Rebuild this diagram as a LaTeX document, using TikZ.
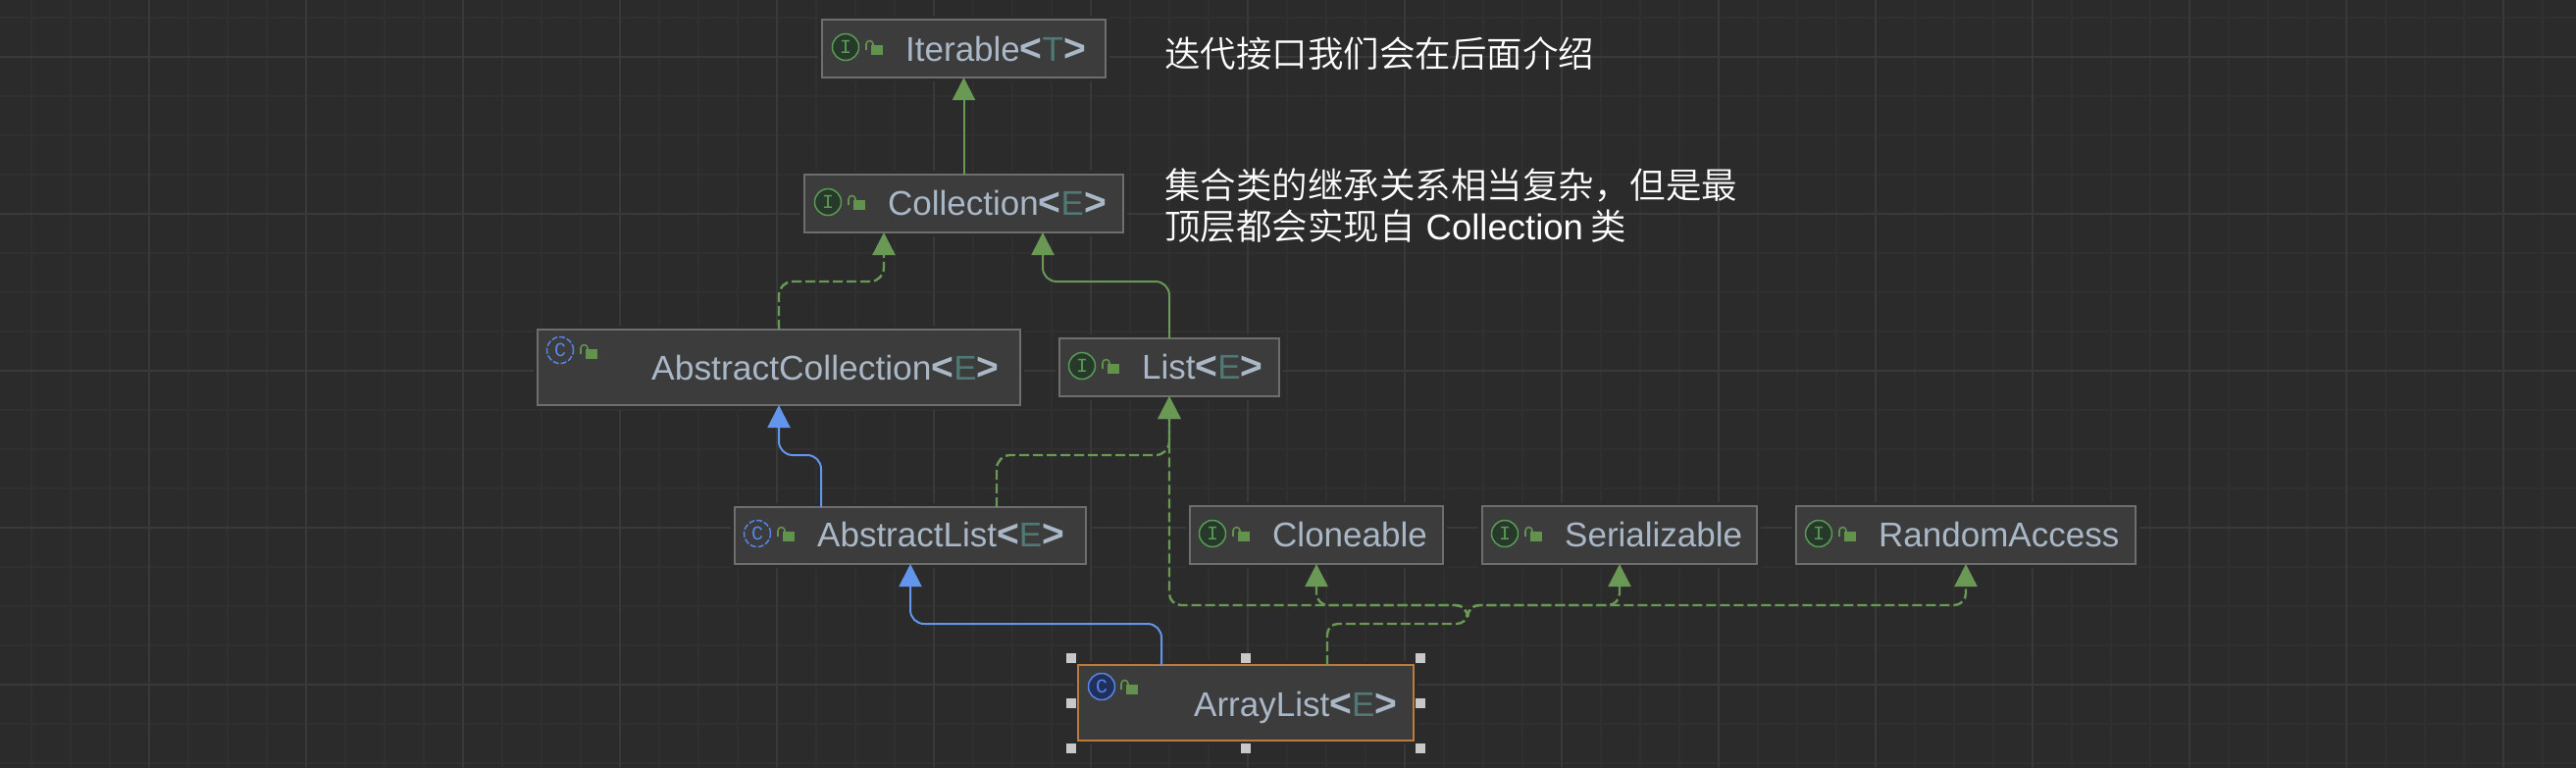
\documentclass[tikz,border=0pt]{standalone}
\usepackage{fontspec}
\usepackage{graphicx}
\setmainfont{Liberation Sans}
\setmonofont{Liberation Mono}
\newfontfamily\cjkfont{Noto Sans CJK SC}[UprightFont=* DemiLight]
\usetikzlibrary{arrows.meta}
\definecolor{bgc}{HTML}{2B2B2B}
\definecolor{gridminor}{HTML}{303030}
\definecolor{gridmajor}{HTML}{393939}
\definecolor{boxfill}{HTML}{3C3C3C}
\definecolor{boxline}{HTML}{6E6E6E}
\definecolor{txtc}{HTML}{A9B7C6}
\definecolor{paramc}{HTML}{507874}
\definecolor{greenc}{HTML}{6A9955}
\definecolor{lockc}{HTML}{62934E}
\definecolor{bluec}{HTML}{6495ED}
\definecolor{ifill}{HTML}{27392B}
\definecolor{ifline}{HTML}{5B9A55}
\definecolor{cfill}{HTML}{20305A}
\definecolor{cline}{HTML}{5586E8}
\definecolor{orangec}{HTML}{BC7A3C}
\definecolor{handlec}{HTML}{C8C8C8}
\tikzset{
  x=1pt,y=-1pt,
  umlbox/.style={draw=boxline,fill=boxfill,line width=2pt,inner sep=0pt,outer sep=0pt,anchor=north west,
    preaction={draw=bgc,line width=8pt}},
  selbox/.style={umlbox,draw=orangec},
  nametext/.style={anchor=base west,inner sep=0pt,text=txtc,font=\fontsize{35}{42}\selectfont},
  note/.style={anchor=north west,inner sep=0pt,text=white,align=left,font=\fontsize{36.5}{42}\selectfont\cjkfont},
  implarrow/.style={draw=greenc,line width=2.4pt,rounded corners=14pt,dash pattern=on 10pt off 4pt,
    -{Triangle[width=23pt,length=23pt,fill=greenc]}},
  implplain/.style={draw=greenc,line width=2.4pt,rounded corners=14pt,dash pattern=on 10pt off 4pt},
  extgreen/.style={draw=greenc,line width=2pt,rounded corners=14pt,
    -{Triangle[width=23pt,length=23pt,fill=greenc]}},
  extblue/.style={draw=bluec,line width=2pt,rounded corners=14pt,
    -{Triangle[width=23pt,length=23pt,fill=bluec]}},
  handle/.style={fill=handlec,inner sep=0pt,minimum size=10pt,outer sep=0pt},
  iconltr/.style={inner sep=0pt,font=\fontsize{20}{20}\selectfont\ttfamily},
}
\newcommand{\lockicon}[3]{%
  \fill[lockc] ([shift={(#2,#3)}]#1.north west) rectangle ++(12,10);
  \draw[lockc,line width=1.6pt] ([shift={(#2-5,#3+5)}]#1.north west) -- ++(0,-6) arc[start angle=180,end angle=0,x radius=3.5,y radius=-3.5] -- ++(0,1);
}
\newcommand{\ifaceicon}[3]{%
  \node[draw=ifline,fill=ifill,circle,line width=1.5pt,minimum size=27pt,inner sep=0pt,text=ifline,iconltr] (#1-ic) at ([shift={(#2,#3)}]#1.north west) {I};
}
\newcommand{\absicon}[3]{%
  \node[draw=cline,circle,line width=1.5pt,dash pattern=on 6pt off 2pt,minimum size=27pt,inner sep=0pt,text=cline,iconltr] (#1-ic) at ([shift={(#2,#3)}]#1.north west) {C};
}
\newcommand{\clsicon}[3]{%
  \node[draw=cline,fill=cfill,circle,line width=1.5pt,minimum size=27pt,inner sep=0pt,text=cline,iconltr] (#1-ic) at ([shift={(#2,#3)}]#1.north west) {C};
}
\newcommand{\gen}[1]{{\fontsize{39}{42}\selectfont\bfseries<}\textcolor{paramc}{#1}{\fontsize{39}{42}\selectfont\bfseries>}}
\begin{document}
\begin{tikzpicture}
\useasboundingbox (0,0) rectangle (2626,782);
\fill[bgc] (-6,-6) rectangle (2632,788);
% grid
\foreach \gx in {32,72,...,2612} {\draw[gridminor,line width=1.5pt] (\gx,0) -- (\gx,782);}
\foreach \gy in {18,58,...,778} {\draw[gridminor,line width=1.5pt] (0,\gy) -- (2626,\gy);}
\foreach \gx in {152,312,...,2612} {\draw[gridmajor,line width=2pt] (\gx,0) -- (\gx,782);}
\foreach \gy in {58,218,378,538,698} {\draw[gridmajor,line width=2pt] (0,\gy) -- (2626,\gy);}
% boxes
\node[umlbox,minimum width=289pt,minimum height=59pt] (iter) at (838,20) {};
\node[umlbox,minimum width=325pt,minimum height=59pt] (coll) at (820,178) {};
\node[umlbox,minimum width=492pt,minimum height=77pt] (acoll) at (548,336) {};
\node[umlbox,minimum width=224pt,minimum height=59pt] (list) at (1080,345) {};
\node[umlbox,minimum width=358pt,minimum height=58pt] (alist) at (749,517) {};
\node[umlbox,minimum width=258pt,minimum height=59pt] (clone) at (1213,516) {};
\node[umlbox,minimum width=280pt,minimum height=59pt] (seri) at (1511,516) {};
\node[umlbox,minimum width=346pt,minimum height=59pt] (rand) at (1831,516) {};
\node[selbox,minimum width=342pt,minimum height=77pt] (arr) at (1099,678) {};
% names
\node[nametext] (iter-t) at ([shift={(85,42)}]iter.north west) {Iterable\gen{T}};
\node[nametext] (coll-t) at ([shift={(85,41)}]coll.north west) {Collection\gen{E}};
\node[nametext] (acoll-t) at ([shift={(116,51)}]acoll.north west) {\scalebox{1.012}[1]{AbstractCollection}\gen{E}};
\node[nametext] (list-t) at ([shift={(84,41)}]list.north west) {List\gen{E}};
\node[nametext] (alist-t) at ([shift={(84,40)}]alist.north west) {AbstractList\gen{E}};
\node[nametext] (clone-t) at ([shift={(84,41)}]clone.north west) {Cloneable};
\node[nametext] (seri-t) at ([shift={(84,41)}]seri.north west) {Serializable};
\node[nametext] (rand-t) at ([shift={(84,41)}]rand.north west) {RandomAccess};
\node[nametext] (arr-t) at ([shift={(118,52)}]arr.north west) {ArrayList\gen{E}};
% icons
\ifaceicon{iter}{24}{28}\lockicon{iter}{50}{26}
\ifaceicon{coll}{24}{28}\lockicon{coll}{50}{26}
\absicon{acoll}{23}{21}\lockicon{acoll}{49}{20}
\ifaceicon{list}{23}{28}\lockicon{list}{49}{26}
\absicon{alist}{23}{27}\lockicon{alist}{49}{25}
\ifaceicon{clone}{23}{28}\lockicon{clone}{49}{26}
\ifaceicon{seri}{23}{28}\lockicon{seri}{49}{26}
\ifaceicon{rand}{23}{28}\lockicon{rand}{49}{26}
\clsicon{arr}{24}{22}\lockicon{arr}{49}{20}
% connectors
\draw[extgreen] (coll.north) -- (iter.south);
\draw[implarrow] (acoll.north) -- ++(0,-49) -| ([xshift=-81.5pt]coll.south);
\draw[extgreen] (list.north) -- ++(0,-58) -| ([xshift=80.5pt]coll.south);
\draw[extblue] ([xshift=-91pt]alist.north) -- ++(0,-53) -| (acoll.south);
\draw[implarrow] ([xshift=88pt]alist.north) -- ++(0,-53) -| (list.south);
\draw[extblue] ([xshift=-86pt]arr.north) -- ++(0,-42) -| (alist.south);
\coordinate (junc) at (1496,627);
\draw[implplain,rounded corners=11pt] ([xshift=83pt]arr.north) -- ++(0,-42) -- (1496,636) -- (junc);
\draw[implarrow,rounded corners=12pt] (junc) |- (list.south |- 0,617) -- (list.south);
\draw[implarrow,rounded corners=12pt] (junc) |- (clone.south |- 0,617) -- (clone.south);
\draw[implarrow,rounded corners=12pt] (junc) |- (seri.south |- 0,617) -- (seri.south);
\draw[implarrow,rounded corners=12pt] (junc) |- (rand.south |- 0,617) -- (rand.south);
% selection handles
\node[handle] (h1) at ([shift={(-7,-7)}]arr.north west) {};
\node[handle] (h2) at ([shift={(0,-7)}]arr.north) {};
\node[handle] (h3) at ([shift={(7,-7)}]arr.north east) {};
\node[handle] (h4) at ([shift={(-7,0)}]arr.west) {};
\node[handle] (h5) at ([shift={(7,0)}]arr.east) {};
\node[handle] (h6) at ([shift={(-7,8)}]arr.south west) {};
\node[handle] (h7) at ([shift={(0,8)}]arr.south) {};
\node[handle] (h8) at ([shift={(7,8)}]arr.south east) {};
% notes
\node[note] (n1) at (1187,37) {迭代接口我们会在后面介绍};
\node[note] (n2) at (1187,172) {集合类的继承关系相当复杂，但是最\\顶层都会实现自\hspace{11pt}{\rmfamily Collection}\hspace{8pt}类};
\end{tikzpicture}
\end{document}
